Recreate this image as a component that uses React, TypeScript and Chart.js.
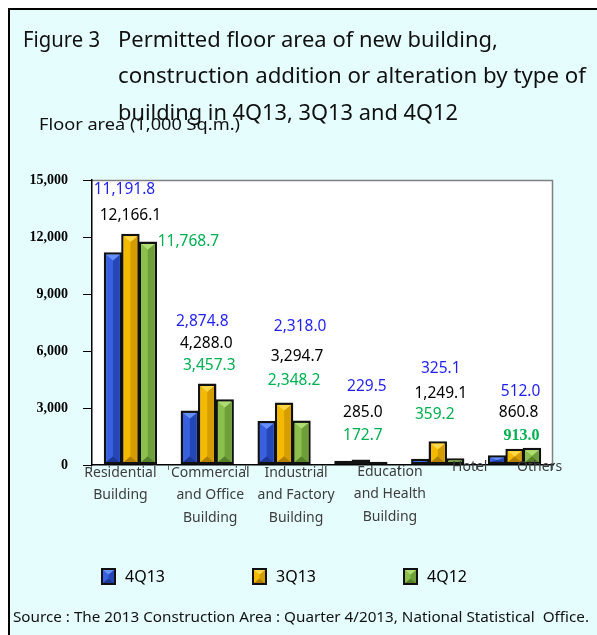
import React, { useEffect, useRef } from "react";
import { Chart, registerables } from "chart.js";

Chart.register(...registerables);

// ---------------- data ----------------
const CATEGORIES: string[][] = [
  ["Residential", "Building"],
  ["Commercial", "and Office", "Building"],
  ["Industrial", "and Factory", "Building"],
  ["Education", "and Health", "Building"],
  ["Hotel"],
  ["Others"],
];
const SERIES_NAMES = ["4Q13", "3Q13", "4Q12"];
const Q4_2013 = [11191.8, 2874.8, 2318.0, 229.5, 325.1, 512.0];
const Q3_2013 = [12166.1, 4288.0, 3294.7, 285.0, 1249.1, 860.8];
const Q4_2012 = [11768.7, 3457.3, 2348.2, 172.7, 359.2, 913.0];
const Y_TICKS = [0, 3000, 6000, 9000, 12000, 15000];

const TITLE_LEAD = "Figure 3";
const TITLE_LINES = [
  "Permitted floor area of new building,",
  "construction addition or alteration by type of",
  "building in 4Q13, 3Q13 and 4Q12",
];
const Y_TITLE = "Floor area (1,000 Sq.m.)";
const SOURCE = "Source : The 2013 Construction Area : Quarter 4/2013, National Statistical  Office.";

// ---------------- layout / style ----------------
const W = 597;
const H = 635;
const BG = "#e6fdfd";
const SANS = '"Noto Sans", "DejaVu Sans", sans-serif';
const SERIF = '"Liberation Serif", "DejaVu Serif", serif';

// bevel palette: [face(left), top, right, bottom]
const PALETTES = [
  { face: "#3a60e2", top: "#6690f6", right: "#2547b6", bottom: "#1c3894" },
  { face: "#f4ba00", top: "#ffd84a", right: "#d59d00", bottom: "#b07f00" },
  { face: "#8cc04c", top: "#b0dc74", right: "#6e9f38", bottom: "#56812a" },
];
const LABEL_COLORS = ["#1f1ff5", "#000000", "#00b050"];
// label placement relative to category centre and top of tallest bar: [dx, dy]
const LABEL_OFFSETS: number[][][] = [
  [[-6, -44], [0, -18], [58, 8]],
  [[-5, -62], [-1, -40], [2, -18]],
  [[16, -76], [13, -46], [10, -22]],
  [[6, -73], [2, -47], [2, -24]],
  [[3, -73], [3, -48], [-3, -27]],
  [[6, -56], [4, -35], [7, -12]],
];
const CAT_LABEL_DX = [-10, 3, 12, 29, 32, 25];
const CAT_LABEL_DY = [8, 8, 8, 7, 2, 2];
const LEGEND_X = [101, 252, 403];
const BAR_BORDER = 2.5;

function fmt(v: number) {
  return v.toLocaleString("en-US", { minimumFractionDigits: 1, maximumFractionDigits: 1 });
}

function fitText(ctx: CanvasRenderingContext2D, text: string, x: number, y: number, width: number) {
  const w0 = ctx.measureText(text).width;
  ctx.save();
  ctx.translate(x, y);
  ctx.scale(width / w0, 1);
  ctx.textAlign = "left";
  ctx.fillText(text, 0, 0);
  ctx.restore();
}

function bevel(ctx: CanvasRenderingContext2D, x0: number, y0: number, x1: number, y1: number, p: any) {
  const w = x1 - x0;
  const h = y1 - y0;
  if (w <= 0 || h <= 0) return;
  const dx = w / 2;
  const dy = Math.min(w * 0.42, h / 2);
  const ix0 = x0 + dx, ix1 = x1 - dx, iy0 = y0 + dy, iy1 = y1 - dy;
  const poly = (pts: number[][], c: string) => {
    ctx.fillStyle = c;
    ctx.beginPath();
    ctx.moveTo(pts[0][0], pts[0][1]);
    for (let i = 1; i < pts.length; i++) ctx.lineTo(pts[i][0], pts[i][1]);
    ctx.closePath();
    ctx.fill();
  };
  poly([[x0, y0], [x1, y0], [x1, y1], [x0, y1]], p.face);
  poly([[x1, y0], [x1, y1], [ix1, iy1], [ix1, iy0]], p.right);
  poly([[x0, y1], [x1, y1], [ix1, iy1], [ix0, iy1]], p.bottom);
  poly([[x0, y0], [x1, y0], [ix1, iy0], [ix0, iy0]], p.top);
}

const decor = {
  id: "decor",
  beforeDraw(chart: any) {
    const ctx: CanvasRenderingContext2D = chart.ctx;
    const a = chart.chartArea;
    ctx.save();
    ctx.fillStyle = "#ffffff";
    ctx.fillRect(0, 0, W, H);
    ctx.fillStyle = BG;
    ctx.fillRect(10, 10, W - 10, H - 10);
    ctx.fillStyle = "#000";
    ctx.fillRect(8, 8, W - 8, 2);
    ctx.fillRect(8, 8, 2, H - 8);

    // plot area
    ctx.fillStyle = "#ffffff";
    ctx.fillRect(a.left, a.top, a.right - a.left, a.bottom - a.top);
    ctx.strokeStyle = "#808080";
    ctx.lineWidth = 1.5;
    ctx.beginPath();
    ctx.moveTo(a.left, a.top + 0.5);
    ctx.lineTo(a.right - 0.5, a.top + 0.5);
    ctx.lineTo(a.right - 0.5, a.bottom);
    ctx.stroke();

    // title
    ctx.fillStyle = "#111";
    ctx.textBaseline = "alphabetic";
    ctx.font = `21px ${SANS}`;
    fitText(ctx, TITLE_LEAD, 23, 47, 77);
    const ends = [498, 586, 458];
    const bases = [47, 83, 120];
    TITLE_LINES.forEach((t, i) => fitText(ctx, t, 118, bases[i], ends[i] - 118));

    // y title
    ctx.fillStyle = "#111";
    ctx.font = `16px ${SANS}`;
    fitText(ctx, Y_TITLE, 39, 130, 201);
    ctx.restore();
  },
  afterDatasetsDraw(chart: any) {
    const ctx: CanvasRenderingContext2D = chart.ctx;
    const yScale = chart.scales.y;
    const xScale = chart.scales.x;
    ctx.save();
    chart.data.datasets.forEach((ds: any, di: number) => {
      const meta = chart.getDatasetMeta(di);
      const bw = ds.borderWidth;
      meta.data.forEach((el: any) => {
        const p = el.getProps(["x", "y", "base", "width"], true);
        bevel(ctx, p.x - p.width / 2 + bw, p.y + bw, p.x + p.width / 2 - bw, p.base - bw, PALETTES[di]);
      });
    });

    // value labels
    ctx.textAlign = "center";
    ctx.textBaseline = "middle";
    CATEGORIES.forEach((_, ci) => {
      const cx = xScale.getPixelForValue(ci);
      const vals = chart.data.datasets.map((d: any) => d.data[ci]);
      const topY = yScale.getPixelForValue(Math.max(...vals));
      vals.forEach((v: number, si: number) => {
        const [dx, dy] = LABEL_OFFSETS[ci][si];
        ctx.fillStyle = LABEL_COLORS[si];
        const special = ci === 5 && si === 2;
        ctx.font = special ? `bold 16px ${SERIF}` : `15.5px ${SANS}`;
        ctx.fillText(fmt(v), cx + dx, topY + dy);
      });
    });
    ctx.restore();
  },
  afterDraw(chart: any) {
    const ctx: CanvasRenderingContext2D = chart.ctx;
    const xScale = chart.scales.x;
    const a = chart.chartArea;
    ctx.save();
    // category labels
    ctx.fillStyle = "#3d3d3d";
    ctx.font = `14px ${SANS}`;
    ctx.textAlign = "center";
    ctx.textBaseline = "middle";
    CATEGORIES.forEach((lines, ci) => {
      const cx = xScale.getPixelForValue(ci) + CAT_LABEL_DX[ci];
      lines.forEach((ln, li) => {
        ctx.fillText(ln, cx, a.bottom + CAT_LABEL_DY[ci] + li * 22.5);
      });
    });

    // legend
    chart.data.datasets.forEach((ds: any, di: number) => {
      const x = LEGEND_X[di];
      const y = 568;
      ctx.fillStyle = "#111";
      ctx.fillRect(x, y, 15, 17);
      bevel(ctx, x + 2, y + 2, x + 13, y + 15, PALETTES[di]);
      ctx.fillStyle = "#000";
      ctx.font = `16px ${SANS}`;
      ctx.textAlign = "left";
      ctx.textBaseline = "middle";
      ctx.fillText(ds.label, x + 24, y + 9);
    });

    // source
    ctx.fillStyle = "#111";
    ctx.font = `15px ${SANS}`;
    ctx.textBaseline = "alphabetic";
    fitText(ctx, SOURCE, 13, 622, 576);
    ctx.restore();
  },
};

export default function App() {
  const ref = useRef<HTMLCanvasElement>(null);
  useEffect(() => {
    if (!ref.current) return;
    const series = [Q4_2013, Q3_2013, Q4_2012];
    const chart = new Chart(ref.current, {
      type: "bar",
      data: {
        labels: CATEGORIES.map((c) => c.join(" ")),
        datasets: series.map((d, i) => ({
          label: SERIES_NAMES[i],
          data: d,
          backgroundColor: PALETTES[i].face,
          borderColor: "#111111",
          borderWidth: BAR_BORDER,
          borderSkipped: false,
          categoryPercentage: 0.68,
          barPercentage: 1.06,
        })),
      },
      options: {
        responsive: false,
        animation: false,
        devicePixelRatio: 1,
        layout: { padding: { top: 180, right: 44, bottom: 0, left: 0 } },
        plugins: { legend: { display: false }, tooltip: { enabled: false } },
        scales: {
          x: {
            grid: { display: true, drawOnChartArea: false, drawTicks: true, tickLength: 5, color: "#666", offset: true },
            border: { display: true, color: "#000", width: 1.5 },
            ticks: { display: false },
            afterFit: (s: any) => {
              s.height = 170;
            },
          },
          y: {
            min: 0,
            max: 15000,
            afterBuildTicks: (s: any) => {
              s.ticks = Y_TICKS.map((v) => ({ value: v }));
            },
            grid: { display: true, drawOnChartArea: false, drawTicks: true, tickLength: 9, color: "#000" },
            border: { display: true, color: "#000", width: 1.5 },
            ticks: {
              padding: 15,
              color: "#000",
              font: { family: SERIF, weight: "bold", size: 14 },
              callback: (v: any) => Number(v).toLocaleString("en-US"),
            },
            afterFit: (s: any) => {
              s.width = 92;
            },
          },
        },
      },
      plugins: [decor],
    });
    return () => chart.destroy();
  }, []);
  return (
    <div style={{ position: "absolute", left: 0, top: 0, width: W, height: H }}>
      <canvas ref={ref} width={W} height={H} style={{ display: "block", width: W, height: H }} />
    </div>
  );
}
